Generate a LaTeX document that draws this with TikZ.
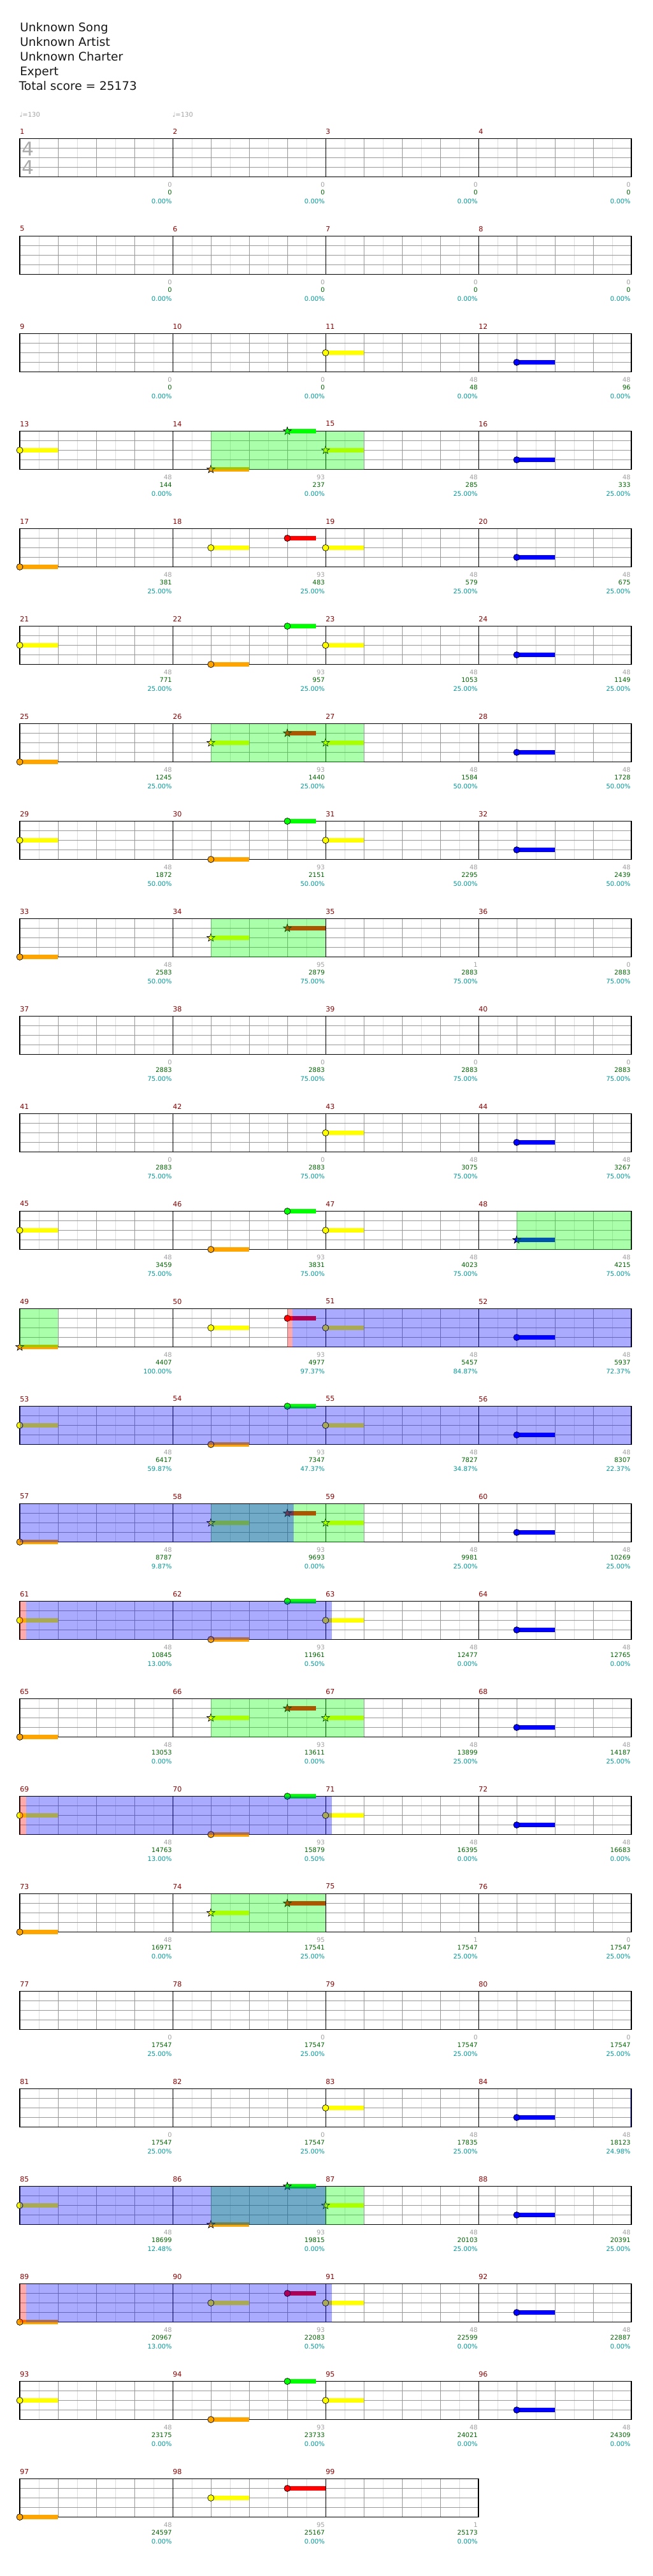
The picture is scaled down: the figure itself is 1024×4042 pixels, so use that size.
\documentclass[tikz,border=0pt]{standalone}
\usepackage{fontspec}
\setmainfont{DejaVu Sans}
\definecolor{lane0}{RGB}{0,255,0}
\definecolor{lane1}{RGB}{255,0,0}
\definecolor{lane2}{RGB}{255,255,0}
\definecolor{lane3}{RGB}{0,0,255}
\definecolor{lane4}{RGB}{255,165,0}
\definecolor{barred}{RGB}{139,0,0}
\definecolor{gaingray}{RGB}{160,160,160}
\definecolor{scoregreen}{RGB}{0,100,0}
\definecolor{pctteal}{RGB}{0,150,150}
\definecolor{gridlight}{RGB}{221,221,221}
\definecolor{gridmid}{RGB}{153,153,153}
\definecolor{sigray}{RGB}{170,170,170}
\newcommand{\numfont}{\fontsize{7.5pt}{9pt}\selectfont}
\tikzset{
  eighthline/.style={gridlight, line width=0.75pt},
  beatline/.style={gridmid, line width=0.75pt},
  laneline/.style={gridmid, line width=1pt},
  barline/.style={black, line width=0.75pt},
  staffframe/.style={black, line width=1.3pt},
  gemhead/.style={draw=black, line width=0.5pt},
  spfill/.style={fill=lane0, fill opacity=0.333},
  odfill/.style={fill=lane3, fill opacity=0.333},
  actfill/.style={fill=lane1, fill opacity=0.333},
  msrnum/.style={font=\fontsize{8.25pt}{9pt}\selectfont, text=barred, anchor=west, inner sep=0pt},
  ptgain/.style={font=\numfont, text=gaingray, anchor=east, inner sep=0pt},
  ptscore/.style={font=\numfont, text=scoregreen, anchor=east, inner sep=0pt},
  ptpct/.style={font=\numfont, text=pctteal, anchor=east, inner sep=0pt},
  songline/.style={font=\fontsize{13.9pt}{16pt}\selectfont, text=black!90, anchor=base west, inner sep=0pt},
  tempo/.style={font=\numfont, text=gaingray, anchor=west, inner sep=0pt},
  timesig/.style={font=\fontsize{22.3pt}{24pt}\selectfont, text=sigray, inner sep=0pt},
}
% one staff of #1 measures, 240 px each, 4 lanes of 15 px
\newcommand{\staff}[1]{%
  \foreach \m in {1,...,#1}{
    \foreach \e in {30,90,150,210} \draw[eighthline] ({240*(\m-1)+\e},0) -- ++(0,60);
    \foreach \b in {60,120,180} \draw[beatline] ({240*(\m-1)+\b},0) -- ++(0,60);
  }
  \foreach \l in {15,30,45} \draw[laneline] (0,\l) -- ({240*#1},\l);
  \foreach \m in {1,...,#1} \draw[barline] ({240*\m},0) -- ++(0,60);
  \draw[staffframe] (0,0) rectangle ({240*#1},60);
}
% notes: x offset, lane (0 = green ... 4 = orange), sustain length
\newcommand{\gem}[3]{%
  \fill[lane#2] (#1,{15*#2-3.5}) rectangle ++(#3,7);
  \filldraw[lane#2, gemhead] (#1,{15*#2}) circle (5);
}
\newcommand{\stargem}[3]{%
  \fill[lane#2] (#1,{15*#2-3.5}) rectangle ++(#3,7);
  \filldraw[lane#2, gemhead, shift={(#1,{15*#2})}] (270:6.5) -- (306:2.6) -- (342:6.5) -- (18:2.6)
    -- (54:6.5) -- (90:2.6) -- (126:6.5) -- (162:2.6) -- (198:6.5) -- (234:2.6) -- cycle;
}
\newcommand{\spzone}[2]{\fill[spfill] (#1,0) rectangle (#2,60);}
\newcommand{\odzone}[2]{\fill[odfill] (#1,0) rectangle (#2,60);}
\newcommand{\actzone}[2]{\fill[actfill] (#1,0) rectangle (#2,60);}
% measure numbers and the three score lines: row, list of gain/total/percent
\newcommand{\measures}[2]{%
  \foreach \gn/\sc/\pc [count=\j from 0] in {#2}{
    \pgfmathtruncatemacro{\n}{4*#1+\j+1}
    \node[msrnum] (bar\n) at ({240*\j},-11.5) {\n};
    \node[ptgain] (gain\n) at ({240*\j+239},72) {\gn};
    \node[ptscore] (total\n) at ({240*\j+239},84) {\sc};
    \node[ptpct] (pct\n) at ({240*\j+239},98) {\pc\%};
  }
}
\begin{document}
\begin{tikzpicture}[x=0.75pt, y=-0.75pt]
  \useasboundingbox (0,0) rectangle (1024,4042);
  \fill[white] (0,0) rectangle (1024,4042);
  \node[songline] (song) at (31,49.3) {Unknown Song};
  \node[songline] (artist) at (31,72.3) {Unknown Artist};
  \node[songline] (charter) at (31,95.3) {Unknown Charter};
  \node[songline] (level) at (31,118.3) {Expert};
  \node[songline] (totalscore) at (29.5,141.3) {Total score = 25173};
  \node[tempo] (bpm1) at (30.5,180) {♩=130};
  \node[tempo] (bpm2) at (270.5,180) {♩=130};

  % measures 1-4
  \begin{scope}[shift={(31,217.5)}]
    \staff{4}
    \node[timesig] (sigtop) at (13.2,16) {4};
    \node[timesig] (sigbottom) at (13.2,45.5) {4};
    \measures{0}{0/0/0.00,0/0/0.00,0/0/0.00,0/0/0.00}
  \end{scope}
  % measures 5-8
  \begin{scope}[shift={(31,{217.5+153*1})}]
    \staff{4}
    \measures{1}{0/0/0.00,0/0/0.00,0/0/0.00,0/0/0.00}
  \end{scope}
  % measures 9-12
  \begin{scope}[shift={(31,{217.5+153*2})}]
    \staff{4}
    \gem{480}{2}{60} \gem{780}{3}{60}
    \measures{2}{0/0/0.00,0/0/0.00,48/48/0.00,48/96/0.00}
  \end{scope}
  % measures 13-16
  \begin{scope}[shift={(31,{217.5+153*3})}]
    \staff{4}
    \gem{0}{2}{60} \stargem{300}{4}{60} \stargem{420}{0}{45} \stargem{480}{2}{60} \gem{780}{3}{60}
    \spzone{300}{540}
    \measures{3}{48/144/0.00,93/237/0.00,48/285/25.00,48/333/25.00}
  \end{scope}
  % measures 17-20
  \begin{scope}[shift={(31,{217.5+153*4})}]
    \staff{4}
    \gem{0}{4}{60} \gem{300}{2}{60} \gem{420}{1}{45} \gem{480}{2}{60} \gem{780}{3}{60}
    \measures{4}{48/381/25.00,93/483/25.00,48/579/25.00,48/675/25.00}
  \end{scope}
  % measures 21-24
  \begin{scope}[shift={(31,{217.5+153*5})}]
    \staff{4}
    \gem{0}{2}{60} \gem{300}{4}{60} \gem{420}{0}{45} \gem{480}{2}{60} \gem{780}{3}{60}
    \measures{5}{48/771/25.00,93/957/25.00,48/1053/25.00,48/1149/25.00}
  \end{scope}
  % measures 25-28
  \begin{scope}[shift={(31,{217.5+153*6})}]
    \staff{4}
    \gem{0}{4}{60} \stargem{300}{2}{60} \stargem{420}{1}{45} \stargem{480}{2}{60} \gem{780}{3}{60}
    \spzone{300}{540}
    \measures{6}{48/1245/25.00,93/1440/25.00,48/1584/50.00,48/1728/50.00}
  \end{scope}
  % measures 29-32
  \begin{scope}[shift={(31,{217.5+153*7})}]
    \staff{4}
    \gem{0}{2}{60} \gem{300}{4}{60} \gem{420}{0}{45} \gem{480}{2}{60} \gem{780}{3}{60}
    \measures{7}{48/1872/50.00,93/2151/50.00,48/2295/50.00,48/2439/50.00}
  \end{scope}
  % measures 33-36
  \begin{scope}[shift={(31,{217.5+153*8})}]
    \staff{4}
    \gem{0}{4}{60} \stargem{300}{2}{60} \stargem{420}{1}{60}
    \spzone{300}{480}
    \measures{8}{48/2583/50.00,95/2879/75.00,1/2883/75.00,0/2883/75.00}
  \end{scope}
  % measures 37-40
  \begin{scope}[shift={(31,{217.5+153*9})}]
    \staff{4}
    \measures{9}{0/2883/75.00,0/2883/75.00,0/2883/75.00,0/2883/75.00}
  \end{scope}
  % measures 41-44
  \begin{scope}[shift={(31,{217.5+153*10})}]
    \staff{4}
    \gem{480}{2}{60} \gem{780}{3}{60}
    \measures{10}{0/2883/75.00,0/2883/75.00,48/3075/75.00,48/3267/75.00}
  \end{scope}
  % measures 45-48
  \begin{scope}[shift={(31,{217.5+153*11})}]
    \staff{4}
    \gem{0}{2}{60} \gem{300}{4}{60} \gem{420}{0}{45} \gem{480}{2}{60} \stargem{780}{3}{60}
    \spzone{780}{960}
    \measures{11}{48/3459/75.00,93/3831/75.00,48/4023/75.00,48/4215/75.00}
  \end{scope}
  % measures 49-52
  \begin{scope}[shift={(31,{217.5+153*12})}]
    \staff{4}
    \stargem{0}{4}{60} \gem{300}{2}{60} \gem{420}{1}{45} \gem{480}{2}{60} \gem{780}{3}{60}
    \spzone{0}{60} \odzone{428}{960} \actzone{420}{428}
    \measures{12}{48/4407/100.00,93/4977/97.37,48/5457/84.87,48/5937/72.37}
  \end{scope}
  % measures 53-56
  \begin{scope}[shift={(31,{217.5+153*13})}]
    \staff{4}
    \gem{0}{2}{60} \gem{300}{4}{60} \gem{420}{0}{45} \gem{480}{2}{60} \gem{780}{3}{60}
    \odzone{0}{960}
    \measures{13}{48/6417/59.87,93/7347/47.37,48/7827/34.87,48/8307/22.37}
  \end{scope}
  % measures 57-60
  \begin{scope}[shift={(31,{217.5+153*14})}]
    \staff{4}
    \gem{0}{4}{60} \stargem{300}{2}{60} \stargem{420}{1}{45} \stargem{480}{2}{60} \gem{780}{3}{60}
    \spzone{300}{540} \odzone{0}{430}
    \measures{14}{48/8787/9.87,93/9693/0.00,48/9981/25.00,48/10269/25.00}
  \end{scope}
  % measures 61-64
  \begin{scope}[shift={(31,{217.5+153*15})}]
    \staff{4}
    \gem{0}{2}{60} \gem{300}{4}{60} \gem{420}{0}{45} \gem{480}{2}{60} \gem{780}{3}{60}
    \odzone{9.5}{489.5} \actzone{0}{9.5}
    \measures{15}{48/10845/13.00,93/11961/0.50,48/12477/0.00,48/12765/0.00}
  \end{scope}
  % measures 65-68
  \begin{scope}[shift={(31,{217.5+153*16})}]
    \staff{4}
    \gem{0}{4}{60} \stargem{300}{2}{60} \stargem{420}{1}{45} \stargem{480}{2}{60} \gem{780}{3}{60}
    \spzone{300}{540}
    \measures{16}{48/13053/0.00,93/13611/0.00,48/13899/25.00,48/14187/25.00}
  \end{scope}
  % measures 69-72
  \begin{scope}[shift={(31,{217.5+153*17})}]
    \staff{4}
    \gem{0}{2}{60} \gem{300}{4}{60} \gem{420}{0}{45} \gem{480}{2}{60} \gem{780}{3}{60}
    \odzone{9.5}{489.5} \actzone{0}{9.5}
    \measures{17}{48/14763/13.00,93/15879/0.50,48/16395/0.00,48/16683/0.00}
  \end{scope}
  % measures 73-76
  \begin{scope}[shift={(31,{217.5+153*18})}]
    \staff{4}
    \gem{0}{4}{60} \stargem{300}{2}{60} \stargem{420}{1}{60}
    \spzone{300}{480}
    \measures{18}{48/16971/0.00,95/17541/25.00,1/17547/25.00,0/17547/25.00}
  \end{scope}
  % measures 77-80
  \begin{scope}[shift={(31,{217.5+153*19})}]
    \staff{4}
    \measures{19}{0/17547/25.00,0/17547/25.00,0/17547/25.00,0/17547/25.00}
  \end{scope}
  % measures 81-84
  \begin{scope}[shift={(31,{217.5+153*20})}]
    \staff{4}
    \gem{480}{2}{60} \gem{780}{3}{60}
    \odzone{958}{960}
    \measures{20}{0/17547/25.00,0/17547/25.00,48/17835/25.00,48/18123/24.98}
  \end{scope}
  % measures 85-88
  \begin{scope}[shift={(31,{217.5+153*21})}]
    \staff{4}
    \gem{0}{2}{60} \stargem{300}{4}{60} \stargem{420}{0}{45} \stargem{480}{2}{60} \gem{780}{3}{60}
    \spzone{300}{540} \odzone{0}{480}
    \measures{21}{48/18699/12.48,93/19815/0.00,48/20103/25.00,48/20391/25.00}
  \end{scope}
  % measures 89-92
  \begin{scope}[shift={(31,{217.5+153*22})}]
    \staff{4}
    \gem{0}{4}{60} \gem{300}{2}{60} \gem{420}{1}{45} \gem{480}{2}{60} \gem{780}{3}{60}
    \odzone{9.5}{489.5} \actzone{0}{9.5}
    \measures{22}{48/20967/13.00,93/22083/0.50,48/22599/0.00,48/22887/0.00}
  \end{scope}
  % measures 93-96
  \begin{scope}[shift={(31,{217.5+153*23})}]
    \staff{4}
    \gem{0}{2}{60} \gem{300}{4}{60} \gem{420}{0}{45} \gem{480}{2}{60} \gem{780}{3}{60}
    \measures{23}{48/23175/0.00,93/23733/0.00,48/24021/0.00,48/24309/0.00}
  \end{scope}
  % measures 97-99
  \begin{scope}[shift={(31,{217.5+153*24})}]
    \staff{3}
    \gem{0}{4}{60} \gem{300}{2}{60} \gem{420}{1}{60}
    \measures{24}{48/24597/0.00,95/25167/0.00,1/25173/0.00}
  \end{scope}
\end{tikzpicture}
\end{document}
